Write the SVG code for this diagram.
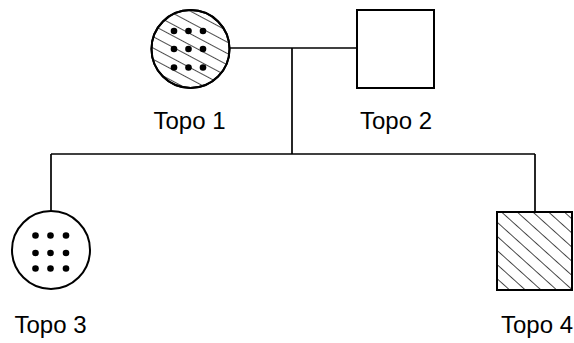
<svg xmlns="http://www.w3.org/2000/svg" width="574" height="343" viewBox="0 0 574 343">
  <style>
    .shape { fill: #fff; stroke: #000; stroke-width: 2; }
    .outline { fill: none; stroke: #000; stroke-width: 2; }
    .conn { fill: none; stroke: #000; stroke-width: 1.7; }
    .dot { fill: #000; }
    .label { font-family: "Liberation Sans", Arial, sans-serif; font-size: 24px; fill: #000; text-anchor: middle; }
  </style>
  <defs>
    <pattern id="hatchA" patternUnits="userSpaceOnUse" width="10" height="10" patternTransform="rotate(28)">
      <line x1="0" y1="0" x2="10" y2="0" stroke="#000" stroke-width="1.4"/>
    </pattern>
    <pattern id="hatchB" patternUnits="userSpaceOnUse" width="10.5" height="10.5" patternTransform="rotate(42)">
      <line x1="0" y1="0" x2="10.5" y2="0" stroke="#000" stroke-width="1.4"/>
    </pattern>
  </defs>
  <g id="connectors">
    <line class="conn" x1="230" y1="48" x2="357" y2="48"/>
    <line class="conn" x1="292" y1="48" x2="292" y2="154"/>
    <line class="conn" x1="51" y1="154" x2="535" y2="154"/>
    <line class="conn" x1="51" y1="154" x2="51" y2="211"/>
    <line class="conn" x1="535" y1="154" x2="535" y2="212"/>
  </g>
  <g id="topo1">
    <circle class="shape" cx="190.5" cy="49" r="39"/>
    <circle cx="190.5" cy="49" r="39" fill="url(#hatchA)"/>
    <circle class="outline" cx="190.5" cy="49" r="39"/>
    <circle class="dot" cx="174" cy="31" r="3.3"/>
    <circle class="dot" cx="188.5" cy="31" r="3.3"/>
    <circle class="dot" cx="203" cy="31" r="3.3"/>
    <circle class="dot" cx="174" cy="49" r="3.3"/>
    <circle class="dot" cx="188.5" cy="49" r="3.3"/>
    <circle class="dot" cx="203" cy="49" r="3.3"/>
    <circle class="dot" cx="174" cy="67.5" r="3.3"/>
    <circle class="dot" cx="188.5" cy="67.5" r="3.3"/>
    <circle class="dot" cx="203" cy="67.5" r="3.3"/>
    <text class="label" x="189.5" y="129">Topo 1</text>
  </g>
  <g id="topo2">
    <rect class="shape" x="357" y="10" width="77" height="78"/>
    <text class="label" x="396" y="129">Topo 2</text>
  </g>
  <g id="topo3">
    <circle class="shape" cx="51" cy="250" r="39"/>
    <circle class="dot" cx="35.5" cy="235.5" r="3.3"/>
    <circle class="dot" cx="50.5" cy="235.5" r="3.3"/>
    <circle class="dot" cx="66" cy="235.5" r="3.3"/>
    <circle class="dot" cx="35.5" cy="253" r="3.3"/>
    <circle class="dot" cx="50.5" cy="253" r="3.3"/>
    <circle class="dot" cx="66" cy="253" r="3.3"/>
    <circle class="dot" cx="35.5" cy="268.5" r="3.3"/>
    <circle class="dot" cx="50.5" cy="268.5" r="3.3"/>
    <circle class="dot" cx="66" cy="268.5" r="3.3"/>
    <text class="label" x="50.5" y="333">Topo 3</text>
  </g>
  <g id="topo4">
    <rect class="shape" x="497" y="212" width="75" height="78"/>
    <rect x="497" y="212" width="75" height="78" fill="url(#hatchB)"/>
    <rect class="outline" x="497" y="212" width="75" height="78"/>
    <text class="label" x="537" y="333">Topo 4</text>
  </g>
</svg>
